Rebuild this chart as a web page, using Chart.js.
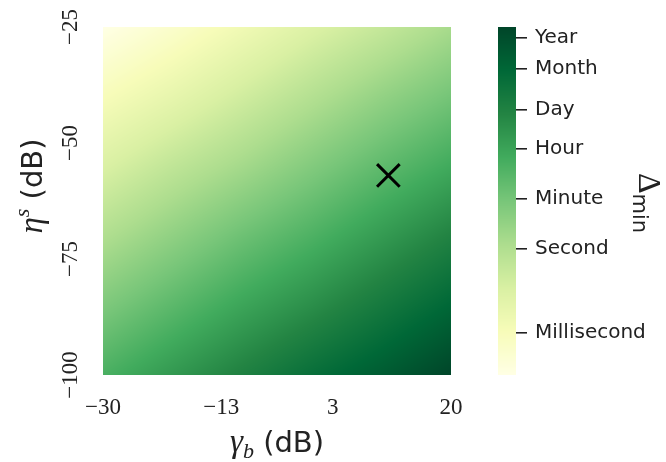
<!DOCTYPE html>
<html>
<head>
<meta charset="utf-8">
<script src="https://cdn.jsdelivr.net/npm/chart.js@4"></script>
<style>
  body { margin: 0; background: #fff; }
  #wrap { position: relative; width: 666px; height: 462px; }
  #wrap canvas { position: absolute; left: 0; top: 0; }
</style>
</head>
<body>
<div id="wrap">
  <canvas id="heatmap" width="666" height="462"></canvas>
  <canvas id="colorbar" width="666" height="462"></canvas>
</div>
<script>
// sample grid: columns are gamma_b (dB), rows are eta^s (dB)
var gammaB = [-30, -20, -10, 0, 10, 20];
var etaS = [-25, -40, -55, -70, -85, -100];
// log10 of Delta_min in seconds at each grid node (row per eta^s)
var logDelta = [
  [-4.5, -3.6, -2.6, -1.6, -0.7, 0.3],
  [-3.0, -2.1, -1.1, -0.1, 0.9, 1.8],
  [-1.5, -0.5, 0.4, 1.4, 2.4, 3.3],
  [0.0, 1.0, 2.0, 2.9, 3.9, 4.9],
  [1.5, 2.5, 3.5, 4.4, 5.4, 6.4],
  [3.0, 4.0, 5.0, 6.0, 6.9, 7.9]
];
var xTicks = [-30, -13, 3, 20];
var yTicks = [-100, -75, -50, -25];
var operatingPoint = [{ x: 11, y: -57 }];
var timeNames = ['Millisecond', 'Second', 'Minute', 'Hour', 'Day', 'Month', 'Year'];
var timeSeconds = [0.001, 1, 60, 3600, 86400, 2592000, 31536000];

var ylgn = ['#ffffe5', '#f7fcb9', '#d9f0a3', '#addd8e', '#78c679', '#41ab5d', '#238443', '#006837', '#004529'];
var ylgnRgb = ylgn.map(function (h) {
  return [parseInt(h.substr(1, 2), 16), parseInt(h.substr(3, 2), 16), parseInt(h.substr(5, 2), 16)];
});

var allVals = [].concat.apply([], logDelta);
var vMin = Math.min.apply(null, allVals);
var vMax = Math.max.apply(null, allVals);

function colorFor(v) {
  var t = (v - vMin) / (vMax - vMin);
  t = Math.max(0, Math.min(1, t)) * (ylgnRgb.length - 1);
  var i = Math.min(Math.floor(t), ylgnRgb.length - 2);
  var f = t - i, a = ylgnRgb[i], b = ylgnRgb[i + 1];
  return [a[0] + (b[0] - a[0]) * f, a[1] + (b[1] - a[1]) * f, a[2] + (b[2] - a[2]) * f];
}

// bilinear shading between grid nodes
function valueAt(gx, ey) {
  var i = 0, j = 0;
  while (i < gammaB.length - 2 && gx > gammaB[i + 1]) i++;
  while (j < etaS.length - 2 && ey < etaS[j + 1]) j++;
  var fx = (gx - gammaB[i]) / (gammaB[i + 1] - gammaB[i]);
  var fy = (ey - etaS[j]) / (etaS[j + 1] - etaS[j]);
  fx = Math.max(0, Math.min(1, fx));
  fy = Math.max(0, Math.min(1, fy));
  var top = logDelta[j][i] * (1 - fx) + logDelta[j][i + 1] * fx;
  var bot = logDelta[j + 1][i] * (1 - fx) + logDelta[j + 1][i + 1] * fx;
  return top * (1 - fy) + bot * fy;
}

var serif = "'Liberation Serif', 'DejaVu Serif', serif";
var sans = "'DejaVu Sans', sans-serif";
var ink = '#222';

function minusSign(v) {
  return String(v).replace('-', '\u2212');
}

// draws a run of differently styled pieces centred on (0,0) of the current transform
function drawRich(ctx, parts) {
  var total = 0;
  parts.forEach(function (p) {
    ctx.font = p.font;
    p.w = ctx.measureText(p.text).width;
    total += p.w;
  });
  var x = -total / 2;
  parts.forEach(function (p) {
    ctx.font = p.font;
    ctx.fillText(p.text, x, p.dy || 0);
    x += p.w;
  });
}

var heatPlugin = {
  id: 'heat',
  beforeDatasetsDraw: function (chart) {
    var ctx = chart.ctx, a = chart.chartArea;
    var sx = chart.scales.x, sy = chart.scales.y;
    var left = Math.round(a.left), top = Math.round(a.top);
    var w = Math.round(a.right) - left, h = Math.round(a.bottom) - top;
    var img = ctx.createImageData(w, h);
    for (var py = 0; py < h; py++) {
      var ev = sy.getValueForPixel(top + py + 0.5);
      for (var px = 0; px < w; px++) {
        var gv = sx.getValueForPixel(left + px + 0.5);
        var c = colorFor(valueAt(gv, ev));
        var k = (py * w + px) * 4;
        img.data[k] = c[0];
        img.data[k + 1] = c[1];
        img.data[k + 2] = c[2];
        img.data[k + 3] = 255;
      }
    }
    ctx.putImageData(img, left, top);
  },
  afterDraw: function (chart) {
    var ctx = chart.ctx;
    ctx.save();
    ctx.fillStyle = ink;
    ctx.textBaseline = 'alphabetic';
    ctx.textAlign = 'left';
    // x axis title
    ctx.translate(277, 452);
    drawRich(ctx, [
      { text: '\u03b3', font: 'italic 33px ' + serif },
      { text: 'b', font: 'italic 22px ' + serif, dy: 6 },
      { text: ' (dB)', font: '29px ' + sans }
    ]);
    ctx.restore();
    ctx.save();
    ctx.fillStyle = ink;
    ctx.textBaseline = 'alphabetic';
    ctx.textAlign = 'left';
    // y axis title
    ctx.translate(42, 186);
    ctx.rotate(-Math.PI / 2);
    drawRich(ctx, [
      { text: '\u03b7', font: 'italic 33px ' + serif },
      { text: 's', font: 'italic 22px ' + serif, dy: -13 },
      { text: ' (dB)', font: '29px ' + sans }
    ]);
    ctx.restore();
  }
};

new Chart(document.getElementById('heatmap'), {
  type: 'scatter',
  data: {
    datasets: [{
      data: operatingPoint,
      pointStyle: 'crossRot',
      radius: 16,
      borderWidth: 3,
      borderColor: '#000',
      backgroundColor: '#000'
    }]
  },
  options: {
    responsive: false,
    animation: false,
    devicePixelRatio: 1,
    layout: { padding: { left: 0, top: 27, right: 215, bottom: 0 } },
    plugins: { legend: { display: false }, tooltip: { enabled: false } },
    scales: {
      x: {
        type: 'linear',
        min: -30,
        max: 20,
        afterBuildTicks: function (s) { s.ticks = xTicks.map(function (v) { return { value: v }; }); },
        afterFit: function (s) { s.height = 87; },
        grid: { display: false, drawTicks: false },
        border: { display: false },
        ticks: {
          autoSkip: false,
          maxRotation: 0,
          padding: 19,
          color: ink,
          font: { family: serif, size: 23 },
          callback: minusSign
        }
      },
      y: {
        type: 'linear',
        min: -100,
        max: -25,
        afterBuildTicks: function (s) { s.ticks = yTicks.map(function (v) { return { value: v }; }); },
        afterFit: function (s) { s.width = 103; },
        grid: { display: false, drawTicks: false },
        border: { display: false },
        ticks: {
          autoSkip: false,
          minRotation: 90,
          maxRotation: 90,
          crossAlign: 'center',
          padding: 8,
          color: ink,
          font: { family: serif, size: 23 },
          callback: minusSign
        }
      }
    }
  },
  plugins: [heatPlugin]
});

// colour bar, one row of pixels per value of the log time axis
var barPlugin = {
  id: 'bar',
  beforeDatasetsDraw: function (chart) {
    var ctx = chart.ctx, a = chart.chartArea, sy = chart.scales.y;
    for (var py = Math.round(a.top); py < Math.round(a.bottom); py++) {
      var c = colorFor(sy.getValueForPixel(py + 0.5));
      ctx.fillStyle = 'rgb(' + Math.round(c[0]) + ',' + Math.round(c[1]) + ',' + Math.round(c[2]) + ')';
      ctx.fillRect(a.left, py, a.right - a.left, 1);
    }
  },
  afterDraw: function (chart) {
    var ctx = chart.ctx;
    ctx.save();
    ctx.fillStyle = ink;
    ctx.textBaseline = 'alphabetic';
    ctx.textAlign = 'left';
    ctx.translate(639, 203);
    ctx.rotate(Math.PI / 2);
    drawRich(ctx, [
      { text: '\u0394', font: '32px ' + serif },
      { text: 'min', font: '21px ' + sans, dy: 6 }
    ]);
    ctx.restore();
  }
};

new Chart(document.getElementById('colorbar'), {
  type: 'scatter',
  data: { datasets: [] },
  options: {
    responsive: false,
    animation: false,
    devicePixelRatio: 1,
    layout: { padding: { left: 498, top: 27, right: 0, bottom: 87 } },
    plugins: { legend: { display: false }, tooltip: { enabled: false } },
    scales: {
      x: { display: false },
      y: {
        position: 'right',
        min: vMin,
        max: vMax,
        afterBuildTicks: function (s) {
          s.ticks = timeSeconds.map(function (v) { return { value: Math.log10(v) }; });
        },
        afterFit: function (s) { s.width = 150; },
        grid: { drawOnChartArea: false, drawTicks: true, tickLength: 11, color: ink, lineWidth: 1.6 },
        border: { display: false },
        ticks: {
          autoSkip: false,
          padding: 8,
          color: ink,
          font: { family: sans, size: 20 },
          callback: function (v, i) { return timeNames[i]; }
        }
      }
    }
  },
  plugins: [barPlugin]
});
</script>
</body>
</html>
